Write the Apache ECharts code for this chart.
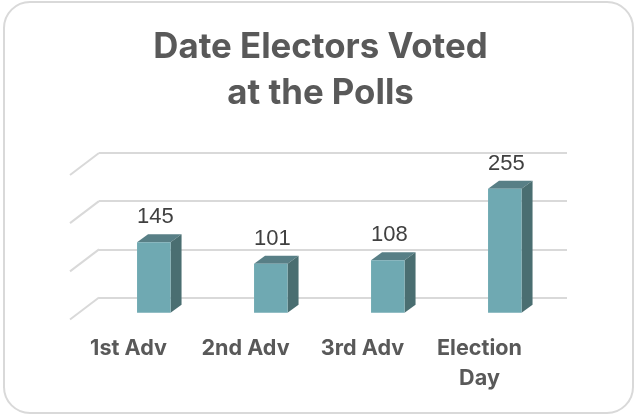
<!DOCTYPE html>
<html>
<head>
<meta charset="utf-8">
<style>html,body{margin:0;padding:0;background:#fff}#c{width:635px;height:415px}</style>
<script src="https://cdn.jsdelivr.net/npm/echarts@6/dist/echarts.min.js"></script>
</head>
<body>
<div id="c"></div>
<script>
const categories = ['1st Adv', '2nd Adv', '3rd Adv', 'Election\nDay'];
const voters = [145, 101, 108, 255];
const gridTicks = [0, 100, 200, 300];
const titleText = 'Date Electors Voted\nat the Polls';

const chart = echarts.init(document.getElementById('c'), null, {renderer: 'canvas'});
const W = 33.5, DX = 11, DY = 8, SHIFT_X = 25.3;
const FLOOR_DX = 29, FLOOR_DY = 22;

function renderBar(params, api) {
  const top = api.coord([api.value(0), api.value(1)]);
  const base = api.coord([api.value(0), 0]);
  const l = top[0] + SHIFT_X - W / 2, r = l + W;
  const t = top[1], b = base[1];
  return {type: 'group', children: [
    {type: 'polygon', shape: {points: [[l, t], [r, t], [r + DX, t - DY], [l + DX, t - DY]]}, style: {fill: '#587F86'}},
    {type: 'polygon', shape: {points: [[r, t], [r + DX, t - DY], [r + DX, b - DY], [r, b]]}, style: {fill: '#4A6E71'}},
    {type: 'rect', shape: {x: l, y: t, width: W, height: b - t}, style: {fill: '#6FA9B2'}},
    {type: 'text', style: {text: String(api.value(1)), x: (l + r) / 2 + 1.5, y: t - 25, align: 'center', verticalAlign: 'middle',
      font: '22px "Liberation Sans", Arial, sans-serif', fill: '#404040'}}
  ]};
}

function renderDiagonal(params, api) {
  const p = api.coord([0, api.value(0)]);
  const x0 = params.coordSys.x;
  return {type: 'line', shape: {x1: x0, y1: p[1], x2: x0 - FLOOR_DX, y2: p[1] + FLOOR_DY},
    style: {stroke: '#D9D9D9', lineWidth: 2}};
}

chart.setOption({
  animation: false,
  backgroundColor: '#fff',
  graphic: [{type: 'rect', z: -10, shape: {x: 4, y: 2, width: 629, height: 411, r: 26},
    style: {fill: '#fff', stroke: '#D9D9D9', lineWidth: 2}}],
  title: {text: titleText, left: 315.5, top: 20, textAlign: 'center',
    textStyle: {fontFamily: 'Inter, "Open Sans", sans-serif', fontWeight: 'bold', fontSize: 34.8, lineHeight: 46, color: '#595959'}},
  grid: [
    {left: 99, width: 468, top: 153, height: 144.5},
    {left: 70, width: 468, top: 167, height: 145.8}
  ],
  xAxis: [
    {gridIndex: 0, type: 'category', data: categories, axisLine: {show: false}, axisTick: {show: false}, axisLabel: {show: false}},
    {gridIndex: 1, type: 'category', data: categories, axisLine: {show: false}, axisTick: {show: false},
      axisLabel: {margin: 21, fontFamily: 'Inter, sans-serif', fontWeight: 'bold', fontSize: 21.6, lineHeight: 30, color: '#595959', interval: 0}}
  ],
  yAxis: [
    {gridIndex: 0, type: 'value', min: 0, max: 300, interval: 100, axisLine: {show: false}, axisTick: {show: false}, axisLabel: {show: false},
      splitLine: {show: true, lineStyle: {color: '#D9D9D9', width: 2}}},
    {gridIndex: 1, type: 'value', min: 0, max: 300, interval: 100, show: false, splitLine: {show: false}}
  ],
  series: [
    {type: 'custom', xAxisIndex: 0, yAxisIndex: 0, data: gridTicks.map(v => [v]), encode: {y: 0}, renderItem: renderDiagonal, silent: true, clip: false},
    {type: 'custom', xAxisIndex: 1, yAxisIndex: 1, data: voters.map((v, i) => [i, v]), encode: {x: 0, y: 1}, renderItem: renderBar, clip: false, z: 5}
  ]
});
</script>
</body>
</html>
